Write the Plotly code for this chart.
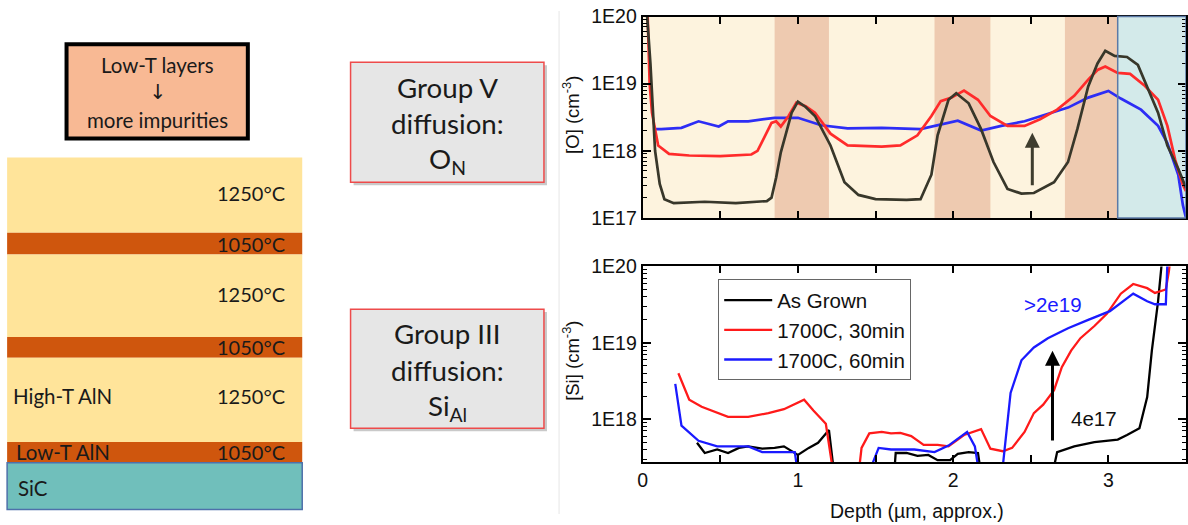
import math
import plotly.graph_objects as go

W, H = 1188, 525
# the captured page is slightly rescaled (page margin); compensate so marks land where the reference has them
SX, OX = 0.987, 7.9
SY, OY = 0.966, 7.4
FS = 0.975
def px(x): return min(max(((x - OX) / SX) / W, 0.0), 1.0)
def py(y): return min(max(1 - ((y - OY) / SY) / H, 0.0), 1.0)
def fs(s): return round(s / FS, 1)

# ---------------- data: top panel, [O] profiles ----------------
depth_O_asgrown = [0.02, 0.05, 0.08, 0.11, 0.14, 0.2, 0.4, 0.6, 0.8, 0.83, 0.86, 0.89, 0.96, 1.0, 1.05,
                   1.11, 1.21, 1.3, 1.39, 1.5, 1.7, 1.79, 1.86, 1.90, 1.97, 2.02, 2.10, 2.18, 2.26,
                   2.35, 2.44, 2.52, 2.65, 2.74, 2.80, 2.87, 2.93, 2.98, 3.04, 3.12, 3.19, 3.25,
                   3.32, 3.38, 3.45, 3.5]
O_asgrown = [2.0e20, 2.0e19, 1.0e18, 3.2e17, 1.9e17, 1.66e17, 1.74e17, 1.66e17, 1.78e17, 2.0e17, 4.0e17,
             9.5e17, 3.7e18, 5.4e18, 4.5e18, 3.3e18, 1.2e18, 3.4e17, 2.2e17, 1.9e17, 1.86e17, 1.9e17,
             4.4e17, 1.7e18, 5.75e18, 7.2e18, 5.1e18, 2.1e18, 6.8e17, 2.7e17, 2.3e17, 2.35e17,
             3.4e17, 6.8e17, 2.1e18, 9.1e18, 2.0e19, 3.1e19, 2.6e19, 2.5e19, 1.9e19, 9.1e18,
             3.7e18, 1.2e18, 5.4e17, 2.8e17]

depth_O_30 = [0.03, 0.045, 0.06, 0.1, 0.17, 0.3, 0.5, 0.7, 0.74, 0.79, 0.83, 0.86, 0.89, 0.94, 0.99,
              1.05, 1.11, 1.21, 1.32, 1.54, 1.66, 1.77, 1.86, 1.92, 1.99, 2.07, 2.16, 2.24, 2.35,
              2.46, 2.56, 2.67, 2.78, 2.87, 2.93, 2.98, 3.06, 3.14, 3.23, 3.32, 3.38, 3.43, 3.48, 3.5]
O_30 = [1.5e20, 1.0e19, 3.7e18, 1.2e18, 9.0e17, 8.5e17, 8.3e17, 8.8e17, 1.0e18, 1.7e18, 2.6e18, 2.75e18,
        2.3e18, 3.3e18, 5.2e18, 4.6e18, 3.7e18, 1.8e18, 1.2e18, 1.15e18, 1.2e18, 1.7e18, 3.3e18,
        5.5e18, 6.2e18, 7.9e18, 5.75e18, 3.3e18, 2.35e18, 2.35e18, 2.95e18, 4.1e18, 6.6e18,
        1.15e19, 1.6e19, 1.8e19, 1.45e19, 1.4e19, 9.5e18, 5.75e18, 2.35e18, 7.4e17, 3.1e17, 2.5e17]

depth_O_60 = [0.07, 0.12, 0.25, 0.36, 0.49, 0.55, 0.68, 0.85, 1.0, 1.15, 1.32, 1.54, 1.79, 1.90, 2.03,
              2.18, 2.31, 2.46, 2.61, 2.74, 2.87, 3.0, 3.08, 3.21, 3.32, 3.38, 3.45, 3.48, 3.5]
O_60 = [2.1e18, 2.1e18, 2.2e18, 2.75e18, 2.3e18, 2.75e18, 2.75e18, 3.1e18, 3.1e18, 2.4e18, 2.15e18,
        2.2e18, 2.1e18, 2.4e18, 2.8e18, 2.0e18, 2.35e18, 2.75e18, 3.5e18, 4.4e18, 6.2e18, 7.8e18,
        6.0e18, 4.1e18, 2.35e18, 1.3e18, 4.4e17, 1.55e17, 1.0e17]

# shaded growth regions in the top panel (depth, um)
lowT_start = [0.85, 1.88, 2.72]
lowT_end = [1.2, 2.24, 3.06]
sic_start, sic_end = 3.06, 3.5

# ---------------- data: bottom panel, [Si] profiles ----------------
depth_Si_asgrown = [0.35, 0.40, 0.48, 0.55, 0.62, 0.68, 0.77, 0.85, 0.91, 1.00, 1.07, 1.13, 1.20, 1.25,
                    1.61, 1.63, 1.70, 1.77, 1.84, 1.90, 1.98, 2.03, 2.10, 2.16, 2.20,
                    2.61, 2.67, 2.78, 2.91, 3.06, 3.12, 3.20, 3.25, 3.28, 3.32, 3.35]
Si_asgrown = [4.9e17, 3.6e17, 4.0e17, 3.6e17, 4.2e17, 4.4e17, 4.1e17, 4.2e17, 4.4e17, 3.4e17, 4.2e17,
              4.9e17, 7.2e17, 1e17,
              1e17, 3.6e17, 3.6e17, 3.3e17, 3.4e17, 2.9e17, 2.9e17, 3.5e17, 3.7e17, 3.6e17, 1e17,
              1e17, 3.7e17, 4.4e17, 5.0e17, 5.4e17, 6.2e17, 7.6e17, 1.95e18, 7.9e18, 3.5e19, 1.5e20]

depth_Si_30 = [0.23, 0.30, 0.38, 0.55, 0.68, 0.81, 0.91, 1.04, 1.10, 1.18, 1.25, 1.375, 1.41, 1.46,
               1.54, 1.60, 1.66, 1.73, 1.81, 1.90, 1.97, 2.07, 2.18, 2.24, 2.32, 2.38, 2.46, 2.52,
               2.58, 2.65, 2.70, 2.76, 2.82, 2.91, 2.99, 3.08, 3.16, 3.25, 3.30, 3.37, 3.39, 3.41]
Si_30 = [4.0e18, 1.8e18, 1.45e18, 1.07e18, 1.07e18, 1.2e18, 1.35e18, 1.8e18, 1.3e18, 8.7e17, 1e17,
         1e17, 4.2e17, 6.5e17, 6.8e17, 6.5e17, 6.6e17, 6.0e17, 4.6e17, 4.6e17, 4.4e17, 6.2e17,
         7.4e17, 4.1e17, 3.8e17, 4.2e17, 6.8e17, 1.2e18, 1.55e18, 2.4e18, 4.8e18, 7.9e18, 1.15e19,
         1.66e19, 2.4e19, 4.4e19, 5.9e19, 5.2e19, 4.5e19, 5.0e19, 8.7e19, 2.0e20]

depth_Si_60 = [0.21, 0.25, 0.36, 0.48, 0.55, 0.68, 0.77, 0.98, 1.02, 1.40, 1.52, 1.60, 1.75, 1.88,
               1.97, 2.09, 2.14, 2.19, 2.30, 2.37, 2.44, 2.52, 2.61, 2.74, 2.87, 3.01, 3.16, 3.25,
               3.30, 3.37, 3.385]
Si_60 = [2.9e18, 8.2e17, 5.2e17, 4.4e17, 4.4e17, 4.4e17, 3.7e17, 3.7e17, 1e17, 1e17, 4.2e17, 4.0e17,
         4.0e17, 3.7e17, 4.5e17, 6.8e17, 4.4e17, 1e17, 1e17, 2.2e18, 5.9e18, 8.7e18, 1.15e19,
         1.55e19, 2.0e19, 2.6e19, 4.4e19, 3.5e19, 3.2e19, 3.2e19, 2.0e20]

series_names = ["As Grown", "1700C, 30min", "1700C, 60min"]

# arrows (depth, from, to)
arrow_O = (2.51, 2.9e17, 1.85e18)
arrow_Si = (2.64, 5.0e17, 7.9e18)
label_before, label_after = "4e17", ">2e19"

# left stack
layer_temps = ["1250°C", "1050°C", "1250°C", "1050°C", "1250°C", "1050°C"]
layer_kind = ["high", "low", "high", "low", "high", "low"]

# ---------------- figure ----------------
AR = "Liberation Sans, Arial, sans-serif"
CAL = "Lato, Open Sans, sans-serif"

fig = go.Figure()

top_cols = ["#38372a", "#ff2b2b", "#2d2df5"]
bot_cols = ["#000000", "#ff1a1a", "#1a1aff"]

for xs, ys, c in [(depth_O_60, O_60, top_cols[2]), (depth_O_30, O_30, top_cols[1]),
                  (depth_O_asgrown, O_asgrown, top_cols[0])]:
    fig.add_trace(go.Scatter(x=xs, y=ys, mode="lines", line=dict(color=c, width=2.7),
                             showlegend=False, xaxis="x", yaxis="y", hoverinfo="skip"))

for xs, ys, c, n in [(depth_Si_asgrown, Si_asgrown, bot_cols[0], series_names[0]),
                     (depth_Si_30, Si_30, bot_cols[1], series_names[1]),
                     (depth_Si_60, Si_60, bot_cols[2], series_names[2])]:
    fig.add_trace(go.Scatter(x=xs, y=ys, mode="lines", line=dict(color=c, width=2.3), name=n,
                             xaxis="x2", yaxis="y2", hoverinfo="skip"))

def minor_vals(lo, hi):
    v = []
    for e in range(lo, hi):
        for k in range(2, 10):
            v.append(float(k) * 10.0 ** e)
    return v

xdom = [px(641), px(1185)]
common_x = dict(domain=xdom, range=[0, 3.5], showgrid=False, zeroline=False, showline=True,
                linecolor="black", linewidth=2, mirror="ticks", ticks="inside", ticklen=7,
                tickwidth=1.5, tickcolor="black",
                tickvals=[0, 0.5, 1, 1.5, 2, 2.5, 3, 3.5],
                ticktext=["0", "", "1", "", "2", "", "3", ""],
                tickfont=dict(family=AR, size=fs(19), color="#111"))
common_y = dict(type="log", showgrid=False, zeroline=False, showline=True, linecolor="black",
                linewidth=2, mirror="ticks", ticks="inside", ticklen=8, tickwidth=1.5,
                tickcolor="black", tickfont=dict(family=AR, size=fs(19), color="#111"))

fig.update_layout(
    width=W, height=H, autosize=False, margin=dict(l=0, r=0, t=0, b=0),
    paper_bgcolor="white", plot_bgcolor="white",
    xaxis=dict(common_x, anchor="y", showticklabels=False),
    yaxis=dict(common_y, anchor="x", domain=[py(216), py(13)], range=[17, 20],
               tickvals=[1e17, 1e18, 1e19, 1e20], ticktext=["1E17", "1E18", "1E19", "1E20"],
               minor=dict(tickvals=minor_vals(17, 20), ticks="inside", ticklen=4,
                          tickcolor="black", tickwidth=1)),
    xaxis2=dict(common_x, anchor="y2"),
    yaxis2=dict(common_y, anchor="x2", domain=[py(462), py(265)], range=[17.44, 20],
                tickvals=[1e18, 1e19, 1e20], ticktext=["1E18", "1E19", "1E20"],
                minor=dict(tickvals=minor_vals(17, 20)[1:], ticks="inside", ticklen=4,
                           tickcolor="black", tickwidth=1)),
    legend=dict(x=px(716), y=py(278), xanchor="left", yanchor="top", bgcolor="white",
                bordercolor="#666", borderwidth=1, font=dict(family=AR, size=fs(20), color="#111"),
                tracegroupgap=0, itemwidth=48),
)

shapes = []
# top panel backgrounds
shapes.append(dict(type="rect", xref="x", yref="y domain", x0=0, x1=sic_start, y0=0, y1=1,
                   fillcolor="#fdf3de", line=dict(width=0), layer="below"))
for a, b in zip(lowT_start, lowT_end):
    shapes.append(dict(type="rect", xref="x", yref="y domain", x0=a, x1=b, y0=0, y1=1,
                       fillcolor="#eecab0", line=dict(width=0), layer="below"))
shapes.append(dict(type="rect", xref="x", yref="y domain", x0=sic_start, x1=sic_end, y0=0, y1=1,
                   fillcolor="#d3eaea", line=dict(width=0), layer="below"))
shapes.append(dict(type="rect", xref="x", yref="y domain", x0=sic_start, x1=sic_end, y0=0, y1=1,
                   fillcolor="rgba(0,0,0,0)", line=dict(color="#5b7aa6", width=1.5), layer="above"))

# separator line
shapes.append(dict(type="line", xref="paper", yref="paper", x0=px(558), x1=px(558), y0=0, y1=1,
                   line=dict(color="#e6e6e6", width=1)))

# left layer stack
stack_x0, stack_x1 = 10, 303
bounds = [155, 231, 253, 336, 357, 442, 463]
for i, kind in enumerate(layer_kind):
    col = "#ffe49a" if kind == "high" else "#cf560d"
    shapes.append(dict(type="rect", xref="paper", yref="paper", x0=px(stack_x0), x1=px(stack_x1),
                       y0=py(bounds[i + 1]), y1=py(bounds[i]), fillcolor=col,
                       line=dict(width=0)))
shapes.append(dict(type="rect", xref="paper", yref="paper", x0=px(stack_x0), x1=px(stack_x1),
                   y0=py(510), y1=py(463), fillcolor="#70bfbb", line=dict(color="#4e70aa", width=1.5)))

# top-left box
shapes.append(dict(type="rect", xref="paper", yref="paper", x0=px(69), x1=px(249), y0=py(136),
                   y1=py(41), fillcolor="#f8b994", line=dict(color="black", width=4)))

# group boxes with shadow
for (y0, y1) in [(59, 180), (308, 428)]:
    shapes.append(dict(type="rect", xref="paper", yref="paper", x0=px(354), x1=px(546),
                       y0=py(y1 + 3), y1=py(y0 + 3), fillcolor="#c9c9c9", line=dict(width=0)))
    shapes.append(dict(type="rect", xref="paper", yref="paper", x0=px(351), x1=px(543),
                       y0=py(y1), y1=py(y0), fillcolor="#e6e6e6",
                       line=dict(color="#ee4b4b", width=1.5)))
fig.update_layout(shapes=shapes)

ann = []
def txt(x, y, s, size, font=CAL, anchor="center", color="#1a1a1a"):
    ann.append(dict(x=px(x), y=py(y), xref="paper", yref="paper", text=s, showarrow=False,
                    xanchor=anchor, yanchor="middle",
                    font=dict(family=font, size=fs(size), color=color)))

# stack labels
temp_y = [191, 242, 293, 346, 396, 452]
for t, yy in zip(layer_temps, temp_y):
    txt(288, yy, t, 19.5, anchor="right")
txt(14, 396, "High-T AlN", 20, anchor="left")
txt(17, 452, "Low-T AlN", 20, anchor="left")
txt(19, 488, "SiC", 20, anchor="left")

txt(159, 62, "Low-T layers", 20)
txt(159, 89, "↓", 20, font="DejaVu Sans")
txt(159, 117, "more impurities", 20)

txt(447, 85, "Group V", 27)
txt(447, 121, "diffusion:", 27)
txt(447, 158, "O<sub>N</sub>", 27)
txt(447, 333, "Group III", 27)
txt(447, 370, "diffusion:", 27)
txt(447, 407, "Si<sub>Al</sub>", 27)

# axis titles
ann.append(dict(x=px(570), y=py(112), xref="paper", yref="paper", text="[O] (cm<sup>-3</sup>)",
                textangle=-90, showarrow=False, xanchor="center", yanchor="middle",
                font=dict(family=AR, size=fs(18), color="#111")))
ann.append(dict(x=px(570), y=py(360), xref="paper", yref="paper", text="[Si] (cm<sup>-3</sup>)",
                textangle=-90, showarrow=False, xanchor="center", yanchor="middle",
                font=dict(family=AR, size=fs(18), color="#111")))
txt(913, 512, "Depth (µm, approx.)", 19, font=AR, color="#111")

# arrows
ann.append(dict(x=arrow_O[0], y=math.log10(arrow_O[2]), ax=arrow_O[0], ay=math.log10(arrow_O[1]),
                xref="x", yref="y", axref="x", ayref="y", text="", showarrow=True, arrowhead=2,
                arrowsize=1, arrowwidth=3, arrowcolor="#3f3d2e"))
ann.append(dict(x=arrow_Si[0], y=math.log10(arrow_Si[2]), ax=arrow_Si[0], ay=math.log10(arrow_Si[1]),
                xref="x2", yref="y2", axref="x2", ayref="y2", text="", showarrow=True, arrowhead=2,
                arrowsize=1, arrowwidth=3, arrowcolor="black"))
txt(1048, 303, label_after, 20, font=AR, color="#1a1aff")
txt(1089, 418, label_before, 20, font=AR, color="#111")

fig.update_layout(annotations=ann)
fig.write_html("out.html")
